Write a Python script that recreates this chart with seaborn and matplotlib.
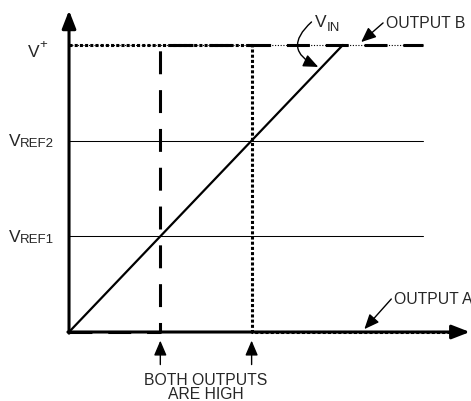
import numpy as np
import pandas as pd
import matplotlib
matplotlib.use("Agg")
import matplotlib.pyplot as plt
import seaborn as sns

# ==============================
# Data
# ==============================

ref_levels = [1, 2]               # VREF1, VREF2
ref_labels = ["REF1", "REF2"]
v_plus = 3
ref_end = 3.88

vin_x = [0, 3]
vin_y = [0, 3]

out_a_x = [0, 2, 2, 4.33]
out_a_y = [3, 3, 0, 0]

out_b_x = [0, 1, 1, 3.88]
out_b_y = [0, 0, 3, 3]

# ==============================
# Figure
# ==============================

sns.set_theme(style="white")
plt.rcParams["font.family"] = ["Liberation Sans", "DejaVu Sans"]

fig = plt.figure(figsize=(4.71, 4.02), dpi=100)
ax = fig.add_axes([0, 0, 1, 1])
ax.set_xlim(-0.756, 4.403)
ax.set_ylim(-0.721, 3.48)
ax.axis("off")

# reference lines
for lvl in ref_levels:
    sns.lineplot(x=[0, ref_end], y=[lvl, lvl], color="black", lw=0.75, ax=ax)

# thin dotted trace along V+
sns.lineplot(x=[0, ref_end], y=[v_plus, v_plus], color="black", lw=0.8,
             linestyle=(0, (1, 1.5)), ax=ax)

# output A (dotted) and output B (dashed)
sns.lineplot(x=out_a_x, y=out_a_y, sort=False, estimator=None, color="black",
             lw=2.2, linestyle=(0, (1.0, 0.7)), ax=ax)
sns.lineplot(x=out_b_x, y=out_b_y, sort=False, estimator=None, color="black",
             lw=2.2, linestyle=(0, (7.5, 5.2)), ax=ax)

# VIN ramp
sns.lineplot(x=vin_x, y=vin_y, color="black", lw=1.6, ax=ax)

# axes with arrows
ax.annotate("", xy=(0, 3.36), xytext=(0, -0.012),
            arrowprops=dict(arrowstyle="-|>,head_length=0.9,head_width=0.35",
                            color="black", lw=2.2, shrinkA=0, shrinkB=0))
ax.annotate("", xy=(4.39, 0), xytext=(-0.012, 0),
            arrowprops=dict(arrowstyle="-|>,head_length=0.9,head_width=0.35",
                            color="black", lw=2.2, shrinkA=0, shrinkB=0))

fs = 11.3
vfs = 12.5
sub = 9.5
small_head = "-|>,head_length=0.75,head_width=0.32"

# y labels
ax.text(-0.328, 2.936, "V", fontsize=vfs, ha="right", va="center")
ax.text(-0.328, 3.01, "+", fontsize=sub, ha="left", va="center")
for lvl, lab in zip(ref_levels, ref_labels):
    ax.text(-0.536, lvl, "V", fontsize=vfs, ha="right", va="center")
    ax.text(-0.536, lvl - 0.03, lab, fontsize=sub, ha="left", va="center")

# VIN label + curved arrow
ax.text(2.82, 3.24, "V", fontsize=vfs, ha="right", va="center")
ax.text(2.82, 3.19, "IN", fontsize=sub, ha="left", va="center")
ax.annotate("", xy=(2.73, 2.77), xytext=(2.656, 3.24),
            arrowprops=dict(arrowstyle=small_head, color="black", lw=1.0,
                            connectionstyle="arc3,rad=0.75",
                            shrinkA=0, shrinkB=0))

# OUTPUT B
ax.text(3.475, 3.23, "OUTPUT B", fontsize=fs, ha="left", va="center")
ax.annotate("", xy=(3.20, 3.03), xytext=(3.44, 3.23),
            arrowprops=dict(arrowstyle=small_head, color="black", lw=1.0,
                            shrinkA=0, shrinkB=0))

# OUTPUT A
ax.text(3.56, 0.345, "OUTPUT A", fontsize=fs, ha="left", va="center")
ax.annotate("", xy=(3.235, 0.03), xytext=(3.53, 0.345),
            arrowprops=dict(arrowstyle=small_head, color="black", lw=1.0,
                            shrinkA=0, shrinkB=0))

# both outputs high markers
for xm in [out_b_x[1], out_a_x[1]]:
    ax.annotate("", xy=(xm, -0.09), xytext=(xm, -0.34),
                arrowprops=dict(arrowstyle=small_head, color="black", lw=1.0,
                                shrinkA=0, shrinkB=0))
ax.text(1.497, -0.50, "BOTH OUTPUTS", fontsize=fs, ha="center", va="center")
ax.text(1.497, -0.645, "ARE HIGH", fontsize=fs, ha="center", va="center")

fig.savefig("out.png", dpi=100)
